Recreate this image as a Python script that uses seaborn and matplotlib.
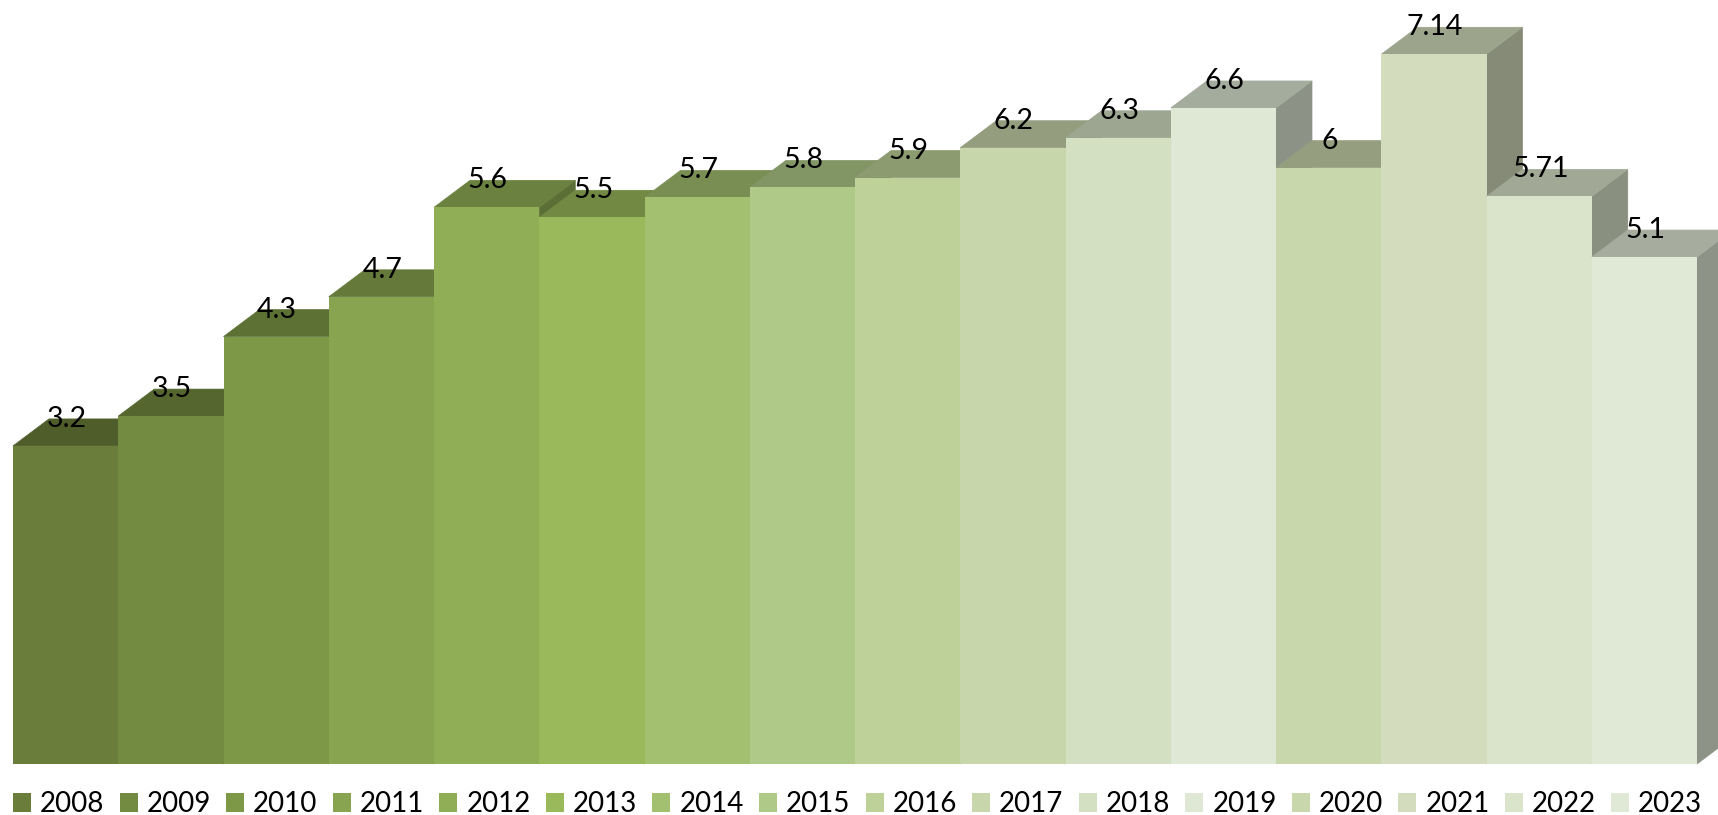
import matplotlib
matplotlib.use('Agg')
import matplotlib.pyplot as plt
import pandas as pd
import seaborn as sns
from matplotlib.colors import to_rgb
from matplotlib.patches import Polygon

# --- data ---
years = ['2008', '2009', '2010', '2011', '2012', '2013', '2014', '2015',
         '2016', '2017', '2018', '2019', '2020', '2021', '2022', '2023']
values = [3.2, 3.5, 4.3, 4.7, 5.6, 5.5, 5.7, 5.8,
          5.9, 6.2, 6.3, 6.6, 6, 7.14, 5.71, 5.1]
colors = ['#6b7d3a', '#738b40', '#7d9948', '#89a450', '#90ae55', '#99b95a',
          '#a3c070', '#afc988', '#bdd198', '#c8d6ac', '#d4e0c2', '#dee8d4',
          '#c9d7ad', '#d3ddbd', '#dae4cb', '#e0e9d6']

W, H = 1718, 815
PX_X = 105.25   # pixels per bar
PX_Y = 99.4     # pixels per value unit
LEFT, BASE = 13, 764
DX = 36 / PX_X  # depth of the fake 3d box
DY = 27 / PX_Y

df = pd.DataFrame({'year': years, 'value': values})

sns.set_theme(style='white')
plt.rcParams['font.family'] = ['Lato', 'DejaVu Sans']

fig = plt.figure(figsize=(W / 100, H / 100), dpi=100)
ax = fig.add_axes([0, 0, 1, 1])

sns.barplot(data=df, x='year', y='value', hue='year', palette=dict(zip(years, colors)),
            hue_order=years, order=years, dodge=False, width=1, saturation=1,
            linewidth=0, legend='full', ax=ax)

ax.set_xlim(-0.5 - LEFT / PX_X, -0.5 - LEFT / PX_X + W / PX_X)
ax.set_ylim(-(H - BASE) / PX_Y, BASE / PX_Y)

# top and side faces hang off the bars seaborn drew
for i, cont in enumerate(ax.containers):
    bar = cont[0]
    x0, x1 = bar.get_x(), bar.get_x() + bar.get_width()
    h = bar.get_height()
    rgb = to_rgb(colors[i])
    side_col = [c * 0.63 for c in rgb]
    top_col = [c * 0.74 for c in rgb]
    z = 3 + 3 * i
    side = Polygon([(x1, 0), (x1 + DX, DY), (x1 + DX, h + DY), (x1, h)],
                   facecolor=side_col, edgecolor=side_col, linewidth=0.5, zorder=z)
    top = Polygon([(x0, h), (x0 + DX, h + DY), (x1 + DX, h + DY), (x1, h)],
                  facecolor=top_col, edgecolor=top_col, linewidth=0.5, zorder=z + 1)
    ax.add_patch(side)
    ax.add_patch(top)
    bar.set_zorder(z + 2)
    bar.set_antialiased(False)

# labels sit over the back edge of the top face
for i, (val, year) in enumerate(zip(values, years)):
    ax.text(i + 0.01, val + DY, f'{val:g}', ha='center', va='center',
            fontsize=20.5, color='black', zorder=100)

handles, labels = ax.get_legend_handles_labels()
ax.legend(handles, labels, ncol=16, loc='lower left', frameon=False,
          bbox_to_anchor=(13 / W, -2 / H), bbox_transform=fig.transFigure,
          fontsize=20, labelcolor='black', borderpad=0, borderaxespad=0,
          handlelength=0.65, handleheight=0.65, handletextpad=0.32,
          columnspacing=0.55, labelspacing=0)

ax.set_axis_off()
fig.savefig('out.png', dpi=100)
plt.close(fig)
